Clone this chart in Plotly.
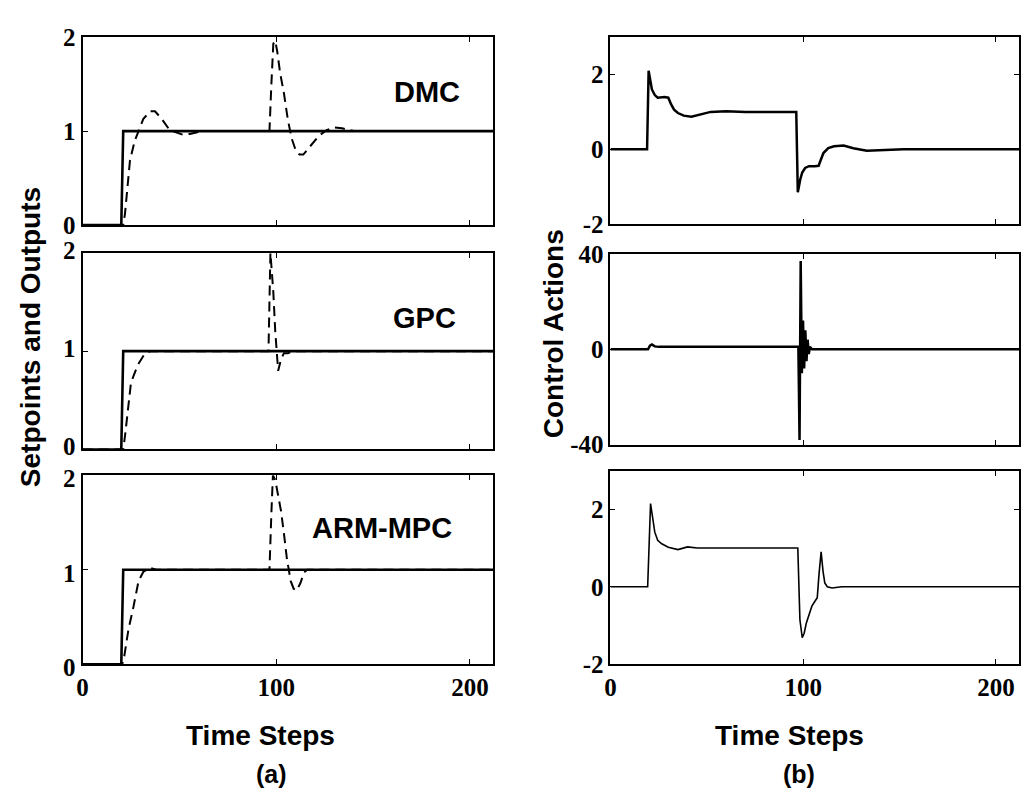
import plotly.graph_objects as go

# ---------------- data ----------------
t_sp = [0, 20, 21, 212]
setpoint = [0, 0, 1, 1]

t_dmc_y = [0, 21, 21.9, 24.5, 27, 28.8, 31.4, 34.9, 37.4, 40.9, 45, 51.9, 55.4, 62, 70,
           96.5, 97.5, 98.5, 99.5, 100.5, 102, 104, 106, 108, 110, 112, 114, 116, 119, 122, 126, 130, 134, 140, 212]
dmc_y = [0, 0, 0.12, 0.69, 0.9, 1.0, 1.13, 1.21, 1.21, 1.13, 1.01, 0.96, 0.97, 1.0, 1.0,
         1.0, 1.5, 1.93, 1.96, 1.85, 1.62, 1.4, 1.12, 0.92, 0.8, 0.75, 0.75, 0.8, 0.87, 0.95, 1.01, 1.04, 1.03, 1.0, 1.0]

t_gpc_y = [0, 21, 22, 25, 28.5, 32, 35, 40, 96, 97, 98.5, 99.5, 101, 102.5, 104, 106, 109, 212]
gpc_y = [0, 0, 0.15, 0.68, 0.86, 0.97, 1.0, 1.0, 1.0, 2.0, 1.6, 1.2, 0.8, 0.92, 0.98, 0.98, 1.0, 1.0]

t_arm_y = [0, 20.5, 21.5, 23.7, 26.3, 28.9, 31.4, 34.9, 38, 45, 96.5, 97.5, 98.3, 99.5, 101, 102.5,
           104, 105.5, 107.5, 109, 110.5, 112.5, 114.3, 116, 212]
arm_y = [0, 0, 0.08, 0.37, 0.61, 0.88, 0.98, 1.02, 1.0, 1.0, 1.0, 1.6, 2.0, 1.95, 1.8, 1.62,
         1.38, 1.12, 0.88, 0.8, 0.78, 0.86, 0.97, 1.0, 1.0]

t_dmc_u = [0, 19, 19.8, 21.5, 23, 24.5, 28, 30, 31.5, 33, 35, 38, 42, 46, 52, 60, 70,
           96.4, 97.2, 98.5, 99.5, 101, 103, 106, 108, 109, 110.5, 113, 116, 121, 126, 133, 140, 152, 212]
dmc_u = [0, 0, 2.1, 1.6, 1.45, 1.38, 1.4, 1.38, 1.2, 1.06, 0.97, 0.9, 0.87, 0.92, 1.0, 1.02, 1.0,
         1.0, -1.15, -0.8, -0.62, -0.5, -0.45, -0.45, -0.44, -0.3, -0.1, 0.03, 0.08, 0.1, 0.03, -0.04, -0.03, 0, 0]

t_gpc_u = [0, 19.5, 20.5, 21.5, 23, 25, 97.5, 98.1, 98.7, 99.3, 99.9, 100.5, 101.1, 101.7, 102.3, 102.9, 103.5, 104.5, 105.5, 212]
gpc_u = [0, 0, 1.5, 2.0, 1.2, 1.0, 1.0, -38, 37, -10, 12, -8, 8, -5, 4, -2, 1, 0, 0, 0]

t_arm_u = [0, 19.3, 20.8, 22, 23, 24.5, 26.6, 30, 35, 40, 45, 97.2, 98.3, 99.5, 100.5, 101.6, 103,
           104.5, 106, 107.3, 108.2, 109.3, 110.3, 111.2, 112.5, 115, 120, 212]
arm_u = [0, 0, 2.15, 1.75, 1.41, 1.2, 1.11, 1.02, 0.96, 1.03, 1.0, 1.0, -0.85, -1.31, -1.2, -0.94, -0.7,
         -0.5, -0.38, -0.28, 0.32, 0.9, 0.4, 0.1, 0.0, -0.03, 0, 0]

x_ticks = [0, 100, 200]
x_range = [0, 212]
W, H = 1030, 805

def px(x):
    return x / W

def py(y):
    return 1 - y / H

fig = go.Figure()

left_panels = [
    (t_dmc_y, dmc_y),
    (t_gpc_y, gpc_y),
    (t_arm_y, arm_y),
]
for i, (tt, yy) in enumerate(left_panels):
    n = i + 1
    xa = "x" if n == 1 else f"x{n}"
    ya = "y" if n == 1 else f"y{n}"
    fig.add_trace(go.Scatter(x=t_sp, y=setpoint, mode="lines", xaxis=xa, yaxis=ya,
                             line=dict(color="black", width=2.6), showlegend=False))
    fig.add_trace(go.Scatter(x=tt, y=yy, mode="lines", xaxis=xa, yaxis=ya,
                             line=dict(color="black", width=2, dash="10px,6px"), showlegend=False))

right_panels = [
    (t_dmc_u, dmc_u, 2.5),
    (t_gpc_u, gpc_u, 2.5),
    (t_arm_u, arm_u, 1.6),
]
for i, (tt, uu, lw) in enumerate(right_panels):
    n = i + 4
    fig.add_trace(go.Scatter(x=tt, y=uu, mode="lines", xaxis=f"x{n}", yaxis=f"y{n}",
                             line=dict(color="black", width=lw), showlegend=False))

tickfont = dict(family="Liberation Serif, Times New Roman, Times, serif", size=25,
                color="black", weight="bold")

def xaxis(dom, anchor, labels):
    return dict(domain=dom, anchor=anchor, range=x_range, tickvals=x_ticks,
                showticklabels=labels, ticks="inside", ticklen=5, tickwidth=1.2,
                tickcolor="black", showline=True, linecolor="black", linewidth=2,
                mirror="ticks", showgrid=False, zeroline=False, tickfont=tickfont)

def yaxis(dom, anchor, rng, vals, text, shift=0):
    return dict(domain=dom, anchor=anchor, range=rng, tickvals=vals, ticktext=text,
                ticks="inside", ticklen=5, tickwidth=1.2, tickcolor="black",
                showline=True, linecolor="black", linewidth=2, mirror="ticks",
                showgrid=False, zeroline=False, tickfont=tickfont, ticklabelshift=shift)

lx = [px(77), px(490)]
rx = [px(608), px(1019)]
rows_l = [[py(218), py(22)], [py(452), py(247)], [py(676), py(479)]]
rows_r = [[py(217), py(22)], [py(447), py(248)], [py(676), py(474)]]

layout = dict(
    width=W, height=H, autosize=False,
    margin=dict(l=0, r=0, t=0, b=0),
    paper_bgcolor="white", plot_bgcolor="white",
    xaxis=xaxis(lx, "y", False),
    yaxis=yaxis(rows_l[0], "x", [0, 2], [0, 1, 2], ["0", "1", "2"]),
    xaxis2=xaxis(lx, "y2", False),
    yaxis2=yaxis(rows_l[1], "x2", [0, 2], [0, 1, 2], ["0", "1", "2"], -3),
    xaxis3=xaxis(lx, "y3", True),
    yaxis3=yaxis(rows_l[2], "x3", [0, 2], [0, 1, 2], ["0", "1", "2"], 3),
    xaxis4=xaxis(rx, "y4", False),
    yaxis4=yaxis(rows_r[0], "x4", [-2, 3], [-2, 0, 2], ["-2", "0", "2"]),
    xaxis5=xaxis(rx, "y5", False),
    yaxis5=yaxis(rows_r[1], "x5", [-40, 40], [-40, 0, 40], ["-40", "0", "40"]),
    xaxis6=xaxis(rx, "y6", True),
    yaxis6=yaxis(rows_r[2], "x6", [-2, 3], [-2, 0, 2], ["-2", "0", "2"]),
)
fig.update_layout(**layout)

def sans(size):
    return dict(family="Liberation Sans, Arial, sans-serif", size=size, color="black", weight="bold")

def ann(text, x, y, angle=0, size=28):
    fig.add_annotation(text=text, x=px(x), y=py(y), xref="paper", yref="paper",
                       showarrow=False, textangle=angle, font=sans(size),
                       xanchor="center", yanchor="middle")

ann("DMC", 423, 79, size=29)
ann("GPC", 421, 315, size=29)
ann("ARM-MPC", 378, 534, size=29)
ann("Setpoints and Outputs", 24, 335, -90)
ann("Control Actions", 551, 331, -90)
ann("Time Steps", 256, 750)
ann("Time Steps", 788, 750)
ann("(a)", 267, 790, size=25)
ann("(b)", 798, 790, size=25)

fig.write_html("out.html")
